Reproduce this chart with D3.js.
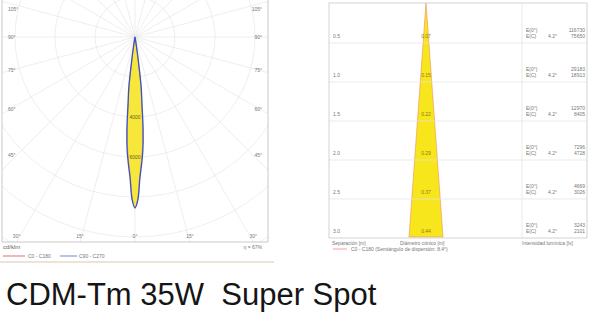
<!DOCTYPE html>
<html>
<head>
<meta charset="utf-8">
<script src="https://cdn.jsdelivr.net/npm/d3@7"></script>
<style>
  body { margin: 0; background: #fff; }
  svg { display: block; font-family: "Liberation Sans", Arial, sans-serif; }
  .grid { fill: none; stroke: #e6e6e6; stroke-width: 0.7; }
  .small { font-size: 5px; fill: #777; }
</style>
</head>
<body>
<div id="chart"></div>
<script>
/*------ data: polar intensity curve (cd/klm) ------*/
var gammas   = [0, 1, 2, 3, 4, 5, 6, 7, 8, 9, 10, 12, 15];
var c0c180   = [8550, 8050, 6900, 6150, 5400, 4300, 3100, 2300, 1050, 380, 140, 50, 0];
var c90c270  = [8550, 8150, 7050, 6350, 5650, 4650, 3300, 2550, 1150, 400, 150, 50, 0];
var ringLabels = [4000, 6000];
var sideAngles = [105, 90, 75, 60, 45];
var bottomAngles = [-30, -15, 0, 15, 30];

/*------ data: cone diagram ------*/
var distances = [0.5, 1.0, 1.5, 2.0, 2.5, 3.0];
var diameters = ["0.07", "0.15", "0.22", "0.29", "0.37", "0.44"];
var eCentre   = [116730, 29183, 12970, 7296, 4669, 3243];
var eEdge     = [75650, 18913, 8405, 4728, 3026, 2101];
var halfAngle = "4.2°";

var width = 600, height = 312;
var svg = d3.select("#chart").append("svg")
    .attr("width", width).attr("height", height);

/*------ polar diagram ------*/
var cx = 135, cy = 37;
var pLeft = 2, pRight = 268, pTop = 0, pBottom = 242;

var r = d3.scaleLinear().domain([0, 10000]).range([0, 200]);

svg.append("clipPath").attr("id", "pclip")
  .append("rect").attr("x", pLeft).attr("y", pTop)
  .attr("width", pRight - pLeft).attr("height", pBottom - pTop);

var polar = svg.append("g").attr("clip-path", "url(#pclip)");

// rings
polar.selectAll("circle.ring")
  .data(d3.range(2000, 18001, 2000))
  .enter().append("circle")
    .attr("class", "grid")
    .attr("cx", cx).attr("cy", cy)
    .attr("r", function(d) { return r(d); });

// radial lines every 15 degrees
polar.selectAll("line.spoke")
  .data(d3.range(0, 360, 15))
  .enter().append("line")
    .attr("class", "grid")
    .attr("x1", cx).attr("y1", cy)
    .attr("x2", function(d) { return cx + 400 * Math.sin(d * Math.PI / 180); })
    .attr("y2", function(d) { return cy + 400 * Math.cos(d * Math.PI / 180); });

function curvePoints(vals) {
  var pts = [];
  for (var i = vals.length - 1; i > 0; i--) pts.push({g: -gammas[i], v: vals[i]});
  for (var j = 0; j < vals.length; j++) pts.push({g: gammas[j], v: vals[j]});
  return pts;
}

var radial = d3.lineRadial()
    .angle(function(d) { return Math.PI - d.g * Math.PI / 180; })
    .radius(function(d) { return r(d.v); })
    .curve(d3.curveCatmullRom);

var beam = polar.append("g").attr("transform", "translate(" + cx + "," + cy + ")");

beam.append("path")
    .attr("d", radial(curvePoints(c90c270)) + "Z")
    .attr("fill", "#f7e73a").attr("stroke", "none");

beam.append("path")
    .attr("d", radial(curvePoints(c0c180)) + "Z")
    .attr("fill", "#f7e73a").attr("stroke", "#e07070").attr("stroke-width", 0.5);

beam.append("path")
    .attr("d", radial(curvePoints(c90c270)) + "Z")
    .attr("fill", "none").attr("stroke", "#3a52c4").attr("stroke-width", 1.3);

// ring value labels
polar.selectAll("text.rl")
  .data(ringLabels)
  .enter().append("text")
    .attr("x", cx).attr("y", function(d) { return cy + r(d) + 2; })
    .attr("text-anchor", "middle")
    .style("font-size", "5px").style("fill", "#6a6020")
    .text(function(d) { return d; });

// frame
svg.append("line").attr("x1", pLeft).attr("x2", pLeft).attr("y1", pTop).attr("y2", pBottom)
  .attr("stroke", "#bbb").attr("stroke-width", 0.8);
svg.append("line").attr("x1", pRight).attr("x2", pRight).attr("y1", pTop).attr("y2", pBottom)
  .attr("stroke", "#bbb").attr("stroke-width", 0.8);
svg.append("line").attr("x1", pLeft).attr("x2", pRight).attr("y1", pBottom).attr("y2", pBottom)
  .attr("stroke", "#bbb").attr("stroke-width", 0.8);

// angle labels
function sideY(d) {
  var yy = cy + (cx - 10) / Math.tan(d * Math.PI / 180);
  return Math.max(11, Math.min(157, yy + 2));
}

svg.selectAll("text.sl")
  .data(sideAngles)
  .enter().append("text")
    .attr("class", "small")
    .attr("x", 8).attr("y", sideY)
    .text(function(d) { return d + "°"; });

svg.selectAll("text.sr")
  .data(sideAngles)
  .enter().append("text")
    .attr("class", "small")
    .attr("x", 262).attr("text-anchor", "end").attr("y", sideY)
    .text(function(d) { return d + "°"; });

svg.selectAll("text.bl")
  .data(bottomAngles)
  .enter().append("text")
    .attr("class", "small")
    .attr("x", function(d) { return cx + (pBottom - cy) * Math.tan(d * Math.PI / 180); })
    .attr("y", 238).attr("text-anchor", "middle")
    .text(function(d) { return Math.abs(d) + "°"; });

svg.append("text").attr("x", 3).attr("y", 249)
  .style("font-size", "6px").style("fill", "#666").text("cd/klm");
svg.append("text").attr("x", 262).attr("y", 249).attr("text-anchor", "end")
  .style("font-size", "5px").style("fill", "#777").text("η = 67%");

// legend
svg.append("line").attr("x1", 3).attr("x2", 25).attr("y1", 256).attr("y2", 256)
  .attr("stroke", "#f0a0a8").attr("stroke-width", 1.6);
svg.append("text").attr("class", "small").attr("x", 28).attr("y", 258).text("C0 - C180");
svg.append("line").attr("x1", 60).attr("x2", 77).attr("y1", 256).attr("y2", 256)
  .attr("stroke", "#a0b4e6").attr("stroke-width", 1.6);
svg.append("text").attr("class", "small").attr("x", 79).attr("y", 258).text("C90 - C270");

svg.append("line").attr("x1", 0).attr("x2", 274).attr("y1", 262).attr("y2", 262)
  .attr("stroke", "#dcc8ae").attr("stroke-width", 1.2);

/*------ cone diagram ------*/
var bx0 = 329, bx1 = 587, by0 = 3, by1 = 238, sep = 522, coneX = 426;

var y = d3.scaleLinear().domain([0, 3]).range([by0, by1 - 1]);
var xm = d3.scaleLinear().domain([-0.22, 0.22]).range([coneX - 17, coneX + 17]);

svg.append("path")
    .attr("d", "M" + coneX + "," + y(0) +
               "L" + xm(-0.22) + "," + y(3) +
               "L" + xm(0.22) + "," + y(3) + "Z")
    .attr("fill", "#f8e61c").attr("stroke", "#ee8c6a").attr("stroke-width", 0.6);

svg.selectAll("line.row")
  .data(distances.slice(0, -1))
  .enter().append("line")
    .attr("x1", bx0).attr("x2", bx1)
    .attr("y1", function(d) { return y(d) + 1; })
    .attr("y2", function(d) { return y(d) + 1; })
    .attr("stroke", "#e2e2e2").attr("stroke-width", 0.7);

svg.append("rect").attr("x", bx0).attr("y", by0)
  .attr("width", bx1 - bx0).attr("height", by1 - by0)
  .attr("fill", "none").attr("stroke", "#c8c8c8").attr("stroke-width", 0.8);
svg.append("line").attr("x1", sep).attr("x2", sep).attr("y1", by0).attr("y2", by1)
  .attr("stroke", "#e2e2e2").attr("stroke-width", 0.7);

var rows = svg.selectAll("g.row")
  .data(distances)
  .enter().append("g")
    .attr("transform", function(d) { return "translate(0," + (y(d) - 4) + ")"; });

rows.append("text").attr("class", "small").attr("x", 333).attr("y", 0)
  .text(function(d) { return d.toFixed(1); });
rows.append("text").attr("x", coneX).attr("y", 0).attr("text-anchor", "middle")
  .style("font-size", "5px").style("fill", "#8a7a20")
  .text(function(d, i) { return diameters[i]; });
rows.append("text").attr("class", "small").attr("x", 526).attr("y", -6).text("E(0°)");
rows.append("text").attr("class", "small").attr("x", 526).attr("y", 0).text("E(C)");
rows.append("text").attr("class", "small").attr("x", 548).attr("y", 0).text(halfAngle);
rows.append("text").attr("class", "small").attr("x", 585).attr("y", -6).attr("text-anchor", "end")
  .text(function(d, i) { return eCentre[i]; });
rows.append("text").attr("class", "small").attr("x", 585).attr("y", 0).attr("text-anchor", "end")
  .text(function(d, i) { return eEdge[i]; });

svg.append("text").attr("class", "small").attr("x", 332).attr("y", 245).text("Separación [m]");
svg.append("text").attr("class", "small").attr("x", 400).attr("y", 245).text("Diámetro cónico [m]");
svg.append("text").attr("class", "small").attr("x", 522).attr("y", 245).text("Intensidad lumínica [lx]");

svg.append("line").attr("x1", 333).attr("x2", 347).attr("y1", 249).attr("y2", 249)
  .attr("stroke", "#f0a0a8").attr("stroke-width", 1);
svg.append("text").attr("class", "small").attr("x", 351).attr("y", 251)
  .text("C0 - C180 (Semiángulo de dispersión: 8.4°)");

/*------ title ------*/
svg.append("text").attr("x", 6).attr("y", 305)
  .style("font-size", "31px").style("fill", "#151515")
  .style("white-space", "pre")
  .text("CDM-Tm 35W  Super Spot");
</script>
</body>
</html>
